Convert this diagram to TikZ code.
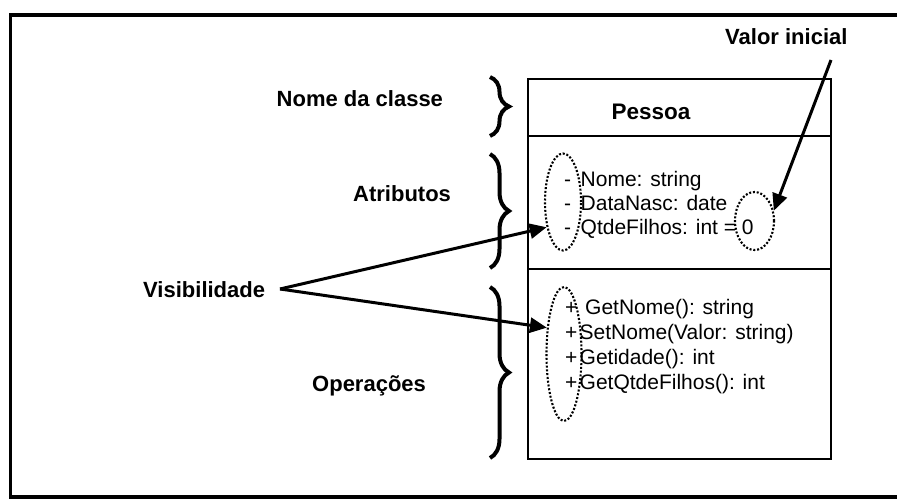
\documentclass[tikz,border=0pt]{standalone}
\usepackage{fontspec}
\setmainfont{Liberation Sans}
\usetikzlibrary{arrows.meta,shapes.geometric,decorations.pathreplacing}
\begin{document}
\begin{tikzpicture}[x=1pt,y=-1pt,
  lbl/.style={anchor=base west,inner sep=0pt,font=\fontsize{22}{26}\selectfont\bfseries},
  txt/.style={anchor=base west,inner sep=0pt,font=\fontsize{21}{24}\selectfont},
  comp/.style={draw,line width=1.6pt,anchor=north west,minimum width=303pt,inner sep=0pt},
  dotell/.style={draw,ellipse,line width=2.1pt,dash pattern=on 2pt off 1.8pt,inner sep=0pt},
  bracestyle/.style={line width=4pt,decorate,decoration={brace,amplitude=19pt}},
  arr/.style={line width=3pt,-{Triangle[length=17pt,width=15pt]}}]
\useasboundingbox (0,0) rectangle (897,503);
% outer frame
\draw[line width=3.5pt] (897,15) -- (10.5,15) -- (10.5,497) -- (897,497);
% class box compartments
\node[comp,minimum height=57pt] (cname) at (527,78) {};
\node[comp,minimum height=133pt] (cattr) at (527,135) {};
\node[comp,minimum height=190pt] (cops) at (527,268) {};
\node[anchor=base,inner sep=0pt,font=\fontsize{22.5}{26}\selectfont\bfseries] (pessoa) at (651,119) {Pessoa};
% attributes
\node[txt] (am1) at (564,186) {-};
\node[txt] (am2) at (564,210) {-};
\node[txt] (am3) at (564,234) {-};
\node[txt] (a1) at (580.5,186) {Nome: string};
\node[txt] (a2) at (580.5,210) {DataNasc: date};
\node[txt] (a3) at (580.5,234) {QtdeFilhos: int = 0};
% operations
\node[txt] (om1) at (565,314) {+};
\node[txt] (om2) at (565,339) {+};
\node[txt] (om3) at (565,364) {+};
\node[txt] (om4) at (565,389) {+};
\node[txt] (o1) at (585,314) {GetNome(): string};
\node[txt] (o2) at (579.5,339) {SetNome(Valor: string)};
\node[txt] (o3) at (579.5,364) {Getidade(): int};
\node[txt] (o4) at (579.5,389) {GetQtdeFilhos(): int};
% dotted ellipses
\node[dotell,minimum width=36pt,minimum height=97pt] (visA) at (563,202) {};
\node[dotell,minimum width=35pt,minimum height=134pt] (visO) at (564,354) {};
\node[dotell,minimum width=39pt,minimum height=58pt] (valE) at (754.5,221) {};
% labels
\node[lbl] (lnome) at (276.5,106.5) {Nome da classe};
\node[lbl] (lattr) at (353,201.5) {Atributos};
\node[lbl] (lvis) at (143,297.5) {Visibilidade};
\node[lbl] (lops) at (312,391) {Operações};
\node[lbl] (lval) at (725,45) {Valor inicial};
% braces
\draw[bracestyle] (490,77) -- (490,136);
\draw[bracestyle] (490,154) -- (490,268);
\draw[bracestyle] (490,287) -- (490,458);
% arrows
\coordinate (vtip) at (280,289);
\coordinate (valstart) at (831,60);
\draw[arr] (vtip) -- (visA.237);
\draw[arr] (vtip) -- (visO.123);
\draw[arr] (valstart) -- (valE.28);
\end{tikzpicture}
\end{document}
